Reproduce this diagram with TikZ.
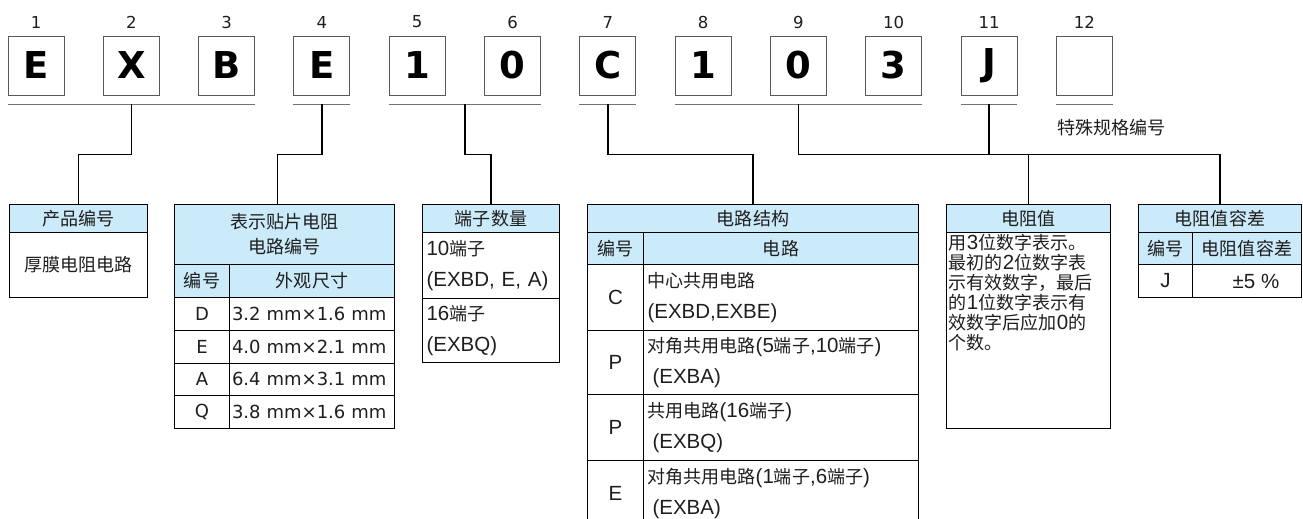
\documentclass[tikz,border=0pt]{standalone}
\usepackage{fontspec}
\setmainfont{Liberation Sans}
\newfontfamily\zh[Scale=0.88]{Noto Sans CJK SC}
\newfontfamily\vd{DejaVu Sans}
\usetikzlibrary{positioning,calc}
\definecolor{hc}{RGB}{204,235,250}
\definecolor{ink}{RGB}{30,30,30}
\newcommand\cn[1]{{\zh #1}}
\tikzset{digbox/.style={draw=black!65,line width=.9pt,minimum width=56pt,minimum height=59pt,inner sep=0pt,
   font=\vd\bfseries\fontsize{37pt}{37pt}\selectfont},
 idx/.style={font=\vd\fontsize{16.5pt}{18pt}\selectfont,text=ink},
 uline/.style={draw=black!55,line width=1.2pt},
 conn/.style={line width=1.5pt},
 sz/.style 2 args={minimum width=#1,minimum height=#2},
 cell/.style={draw,line width=1pt,anchor=north west,inner sep=0pt,text=ink,
   font=\fontsize{20.5pt}{31pt}\selectfont},
 hd/.style={cell,fill=hc},
 lc/.style={text width=#1,align=left,inner xsep=4pt},
 vdf/.style={font=\vd\fontsize{18pt}{22pt}\selectfont}}
\begin{document}
\begin{tikzpicture}[x=1pt,y=-1pt]
\useasboundingbox (0,0) rectangle (1303,519);
% code boxes
\foreach \c [count=\i] in {E,X,B,E,1,0,C,1,0,3,J,{}} {
  \node[digbox] (d\i) at ({36+95.3*(\i-1)},65.5) {\c};
  \node[idx] (n\i) at ({36+95.3*(\i-1)},22) {\i};
}
\foreach \a/\b/\g in {1/3/a,4/4/b,5/6/c,7/7/d,8/10/e,11/11/f,12/12/g}
  \draw[uline] ($(d\a.south west)+(0,9)$) coordinate (\g1) -- ($(d\b.south east)+(0,9)$) coordinate (\g2);
\node[font=\fontsize{20.5pt}{24pt}\selectfont,text=ink,anchor=west,inner sep=0pt] (sp) at (1057,128) {\cn{特殊规格编号}};
% tables
\node[hd,sz={138pt}{28pt}] (t1h) at (9,204) {\cn{产品编号}};
\node[cell,sz={138pt}{65pt}] (t1b) at (9,232) {\cn{厚膜电阻电路}};
\node[hd,sz={220pt}{60pt},align=center,font=\fontsize{20.5pt}{25pt}\selectfont] (t2h) at (174,204) {\cn{表示贴片电阻}\\\cn{电路编号}};
\node[hd,sz={55pt}{33pt}] (t2k) at (174,264) {\cn{编号}};
\node[hd,sz={165pt}{33pt}] (t2s) at (229,264) {\cn{外观尺寸}};
\foreach \k/\v [count=\r from 0] in {D/3.2 mm×1.6 mm,E/4.0 mm×2.1 mm,A/6.4 mm×3.1 mm,Q/3.8 mm×1.6 mm} {
  \node[cell,vdf,sz={55pt}{32.75pt}] (t2k\r) at (174,297+32.75*\r) {\k};
  \node[cell,vdf,sz={165pt}{32.75pt},text width=160pt,inner xsep=2.5pt,align=left] (t2v\r) at (229,297+32.75*\r) {\v};
}
\node[hd,sz={137pt}{28pt}] (t3h) at (422,204) {\cn{端子数量}};
\node[cell,sz={137pt}{66pt},lc=129pt] (t3a) at (422,232) {10\cn{端子}\\(EXBD, E, A)};
\node[cell,sz={137pt}{64pt},lc=129pt] (t3b) at (422,298) {16\cn{端子}\\(EXBQ)};
\node[hd,sz={331pt}{28pt}] (t4h) at (587,204) {\cn{电路结构}};
\node[hd,sz={56pt}{32pt}] (t4k) at (587,232) {\cn{编号}};
\node[hd,sz={275pt}{32pt}] (t4s) at (643,232) {\cn{电路}};
\node[cell,sz={56pt}{66pt}] (t4k0) at (587,264) {C};
\node[cell,sz={275pt}{66pt},lc=267pt] (t4v0) at (643,264) {\cn{中心共用电路}\\(EXBD,EXBE)};
\node[cell,sz={56pt}{64pt}] (t4k1) at (587,330) {P};
\node[cell,sz={275pt}{64pt},lc=267pt] (t4v1) at (643,330) {\cn{对角共用电路}(5\cn{端子},10\cn{端子})\\\hspace*{5pt}(EXBA)};
\node[cell,sz={56pt}{66pt}] (t4k2) at (587,394) {P};
\node[cell,sz={275pt}{66pt},lc=267pt] (t4v2) at (643,394) {\cn{共用电路}(16\cn{端子})\\\hspace*{5pt}(EXBQ)};
\node[cell,sz={56pt}{66pt}] (t4k3) at (587,460) {E};
\node[cell,sz={275pt}{66pt},lc=267pt] (t4v3) at (643,460) {\cn{对角共用电路}(1\cn{端子},6\cn{端子})\\\hspace*{5pt}(EXBA)};
\node[hd,sz={164pt}{28pt}] (t5h) at (946,204) {\cn{电阻值}};
\node[cell,sz={164pt}{196pt}] (t5b) at (946,232) {};
\node[anchor=north west,inner sep=0pt,text=ink,text width=158pt,align=left,
  font=\fontsize{20.5pt}{20pt}\selectfont] (t5t) at (948.5,234) {\cn{用}3\cn{位数字表示。}\\\cn{最初的}2\cn{位数字表}\\\cn{示有效数字，最后}\\\cn{的}1\cn{位数字表示有}\\\cn{效数字后应加}0\cn{的}\\\cn{个数。}};
\node[hd,sz={163pt}{28pt}] (t6h) at (1138,204) {\cn{电阻值容差}};
\node[hd,sz={54pt}{32pt}] (t6k) at (1138,232) {\cn{编号}};
\node[hd,sz={109pt}{32pt}] (t6s) at (1192,232) {\cn{电阻值容差}};
\node[cell,sz={54pt}{33pt}] (t6k0) at (1138,264) {J};
\node[cell,sz={109pt}{33pt}] (t6v0) at (1192,264) {\hspace*{18pt}±5 \%};
% connectors
\draw[conn] ($(a1)!.5!(a2)$) -- ++(0,50) -| (t1h.north);
\draw[conn] ($(b1)!.5!(b2)$) -- ++(0,50) -| ([xshift=-7pt]t2h.north);
\draw[conn] ($(c1)!.5!(c2)$) -- ++(0,50) -| (t3h.north);
\draw[conn] ($(d1)!.5!(d2)$) -- ++(0,50) -| (t4h.north);
\draw[conn] ($(e1)!.5!(e2)$) -- ++(0,50) coordinate (j) -| (t6h.north);
\draw[conn] ($(f1)!.5!(f2)$) coordinate (fm) -- (fm |- j);
\draw[conn] (t5h.north |- j) -- (t5h.north);
\end{tikzpicture}
\end{document}
